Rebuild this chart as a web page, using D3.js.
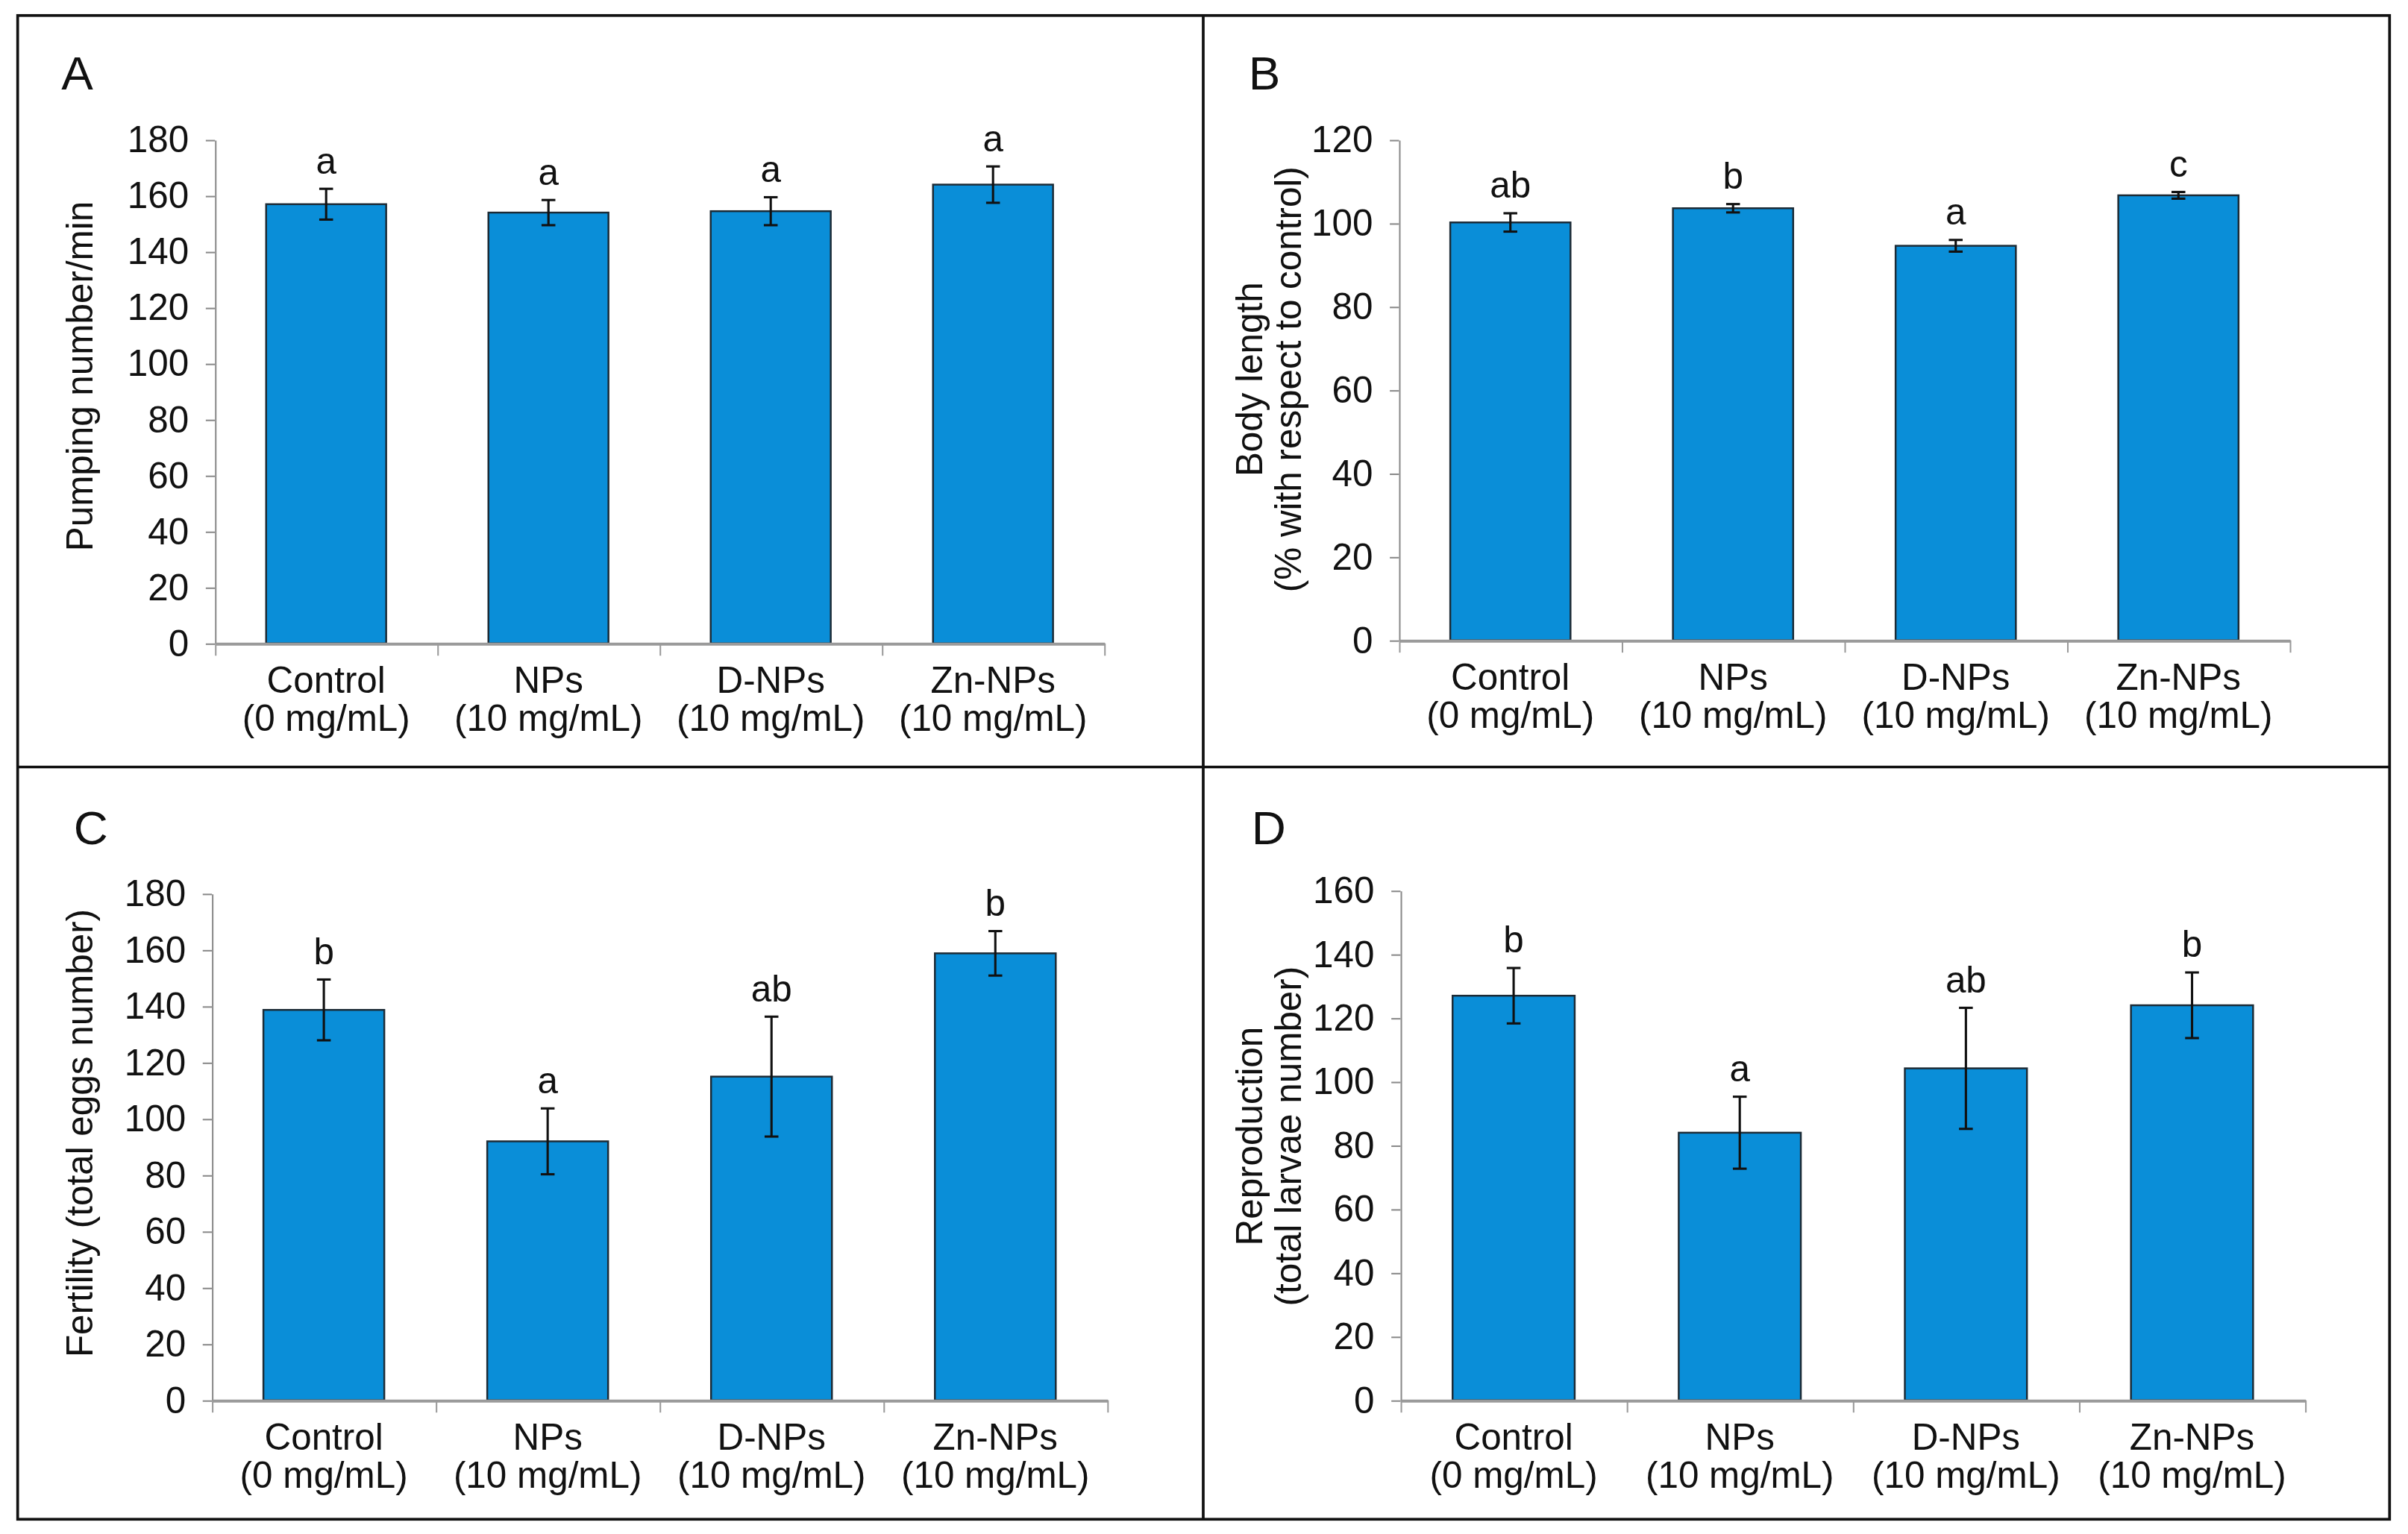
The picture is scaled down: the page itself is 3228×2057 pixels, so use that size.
<!DOCTYPE html>
<html>
<head>
<meta charset="utf-8">
<script src="https://cdn.jsdelivr.net/npm/d3@7"></script>
<style>
  html, body { margin: 0; padding: 0; background: #fff; }
  text { font-family: "Liberation Sans", Arial, sans-serif; fill: #111; }
</style>
</head>
<body>
<div class="canvas"></div>
<script>
const width = 3228, height = 2057

// data
const categories = ['Control', 'NPs', 'D-NPs', 'Zn-NPs']
const doses = ['(0 mg/mL)', '(10 mg/mL)', '(10 mg/mL)', '(10 mg/mL)']

const pumpingMean = [157, 154, 154.5, 164]
const pumpingErr = [5.5, 4.5, 5, 6.5]
const pumpingLetters = ['a', 'a', 'a', 'a']
const pumpingTicks = [0, 20, 40, 60, 80, 100, 120, 140, 160, 180]

const bodyMean = [100.2, 103.6, 94.6, 106.7]
const bodyErr = [2.2, 1, 1.4, 0.8]
const bodyLetters = ['ab', 'b', 'a', 'c']
const bodyTicks = [0, 20, 40, 60, 80, 100, 120]

const fertilityMean = [138.7, 92, 115, 158.8]
const fertilityErr = [10.8, 11.7, 21.3, 7.9]
const fertilityLetters = ['b', 'a', 'ab', 'b']
const fertilityTicks = [0, 20, 40, 60, 80, 100, 120, 140, 160, 180]

const reproMean = [127, 84, 104.2, 124]
const reproErr = [8.7, 11.3, 19, 10.3]
const reproLetters = ['b', 'a', 'ab', 'b']
const reproTicks = [0, 20, 40, 60, 80, 100, 120, 140, 160]

// layout is drawn in a 1568 x 999 space and scaled up
const svg = d3.select('.canvas').append('svg')
    .attr('width', width).attr('height', height)
    .attr('viewBox', '0 0 1568 999')

const panels = [
    { tag: 'A', tagX: 40, tagY: 58, x0: 140, x1: 719, yTop: 91, y0: 419,
      mean: pumpingMean, err: pumpingErr, letters: pumpingLetters, ticks: pumpingTicks,
      title: ['Pumping number/min'], titleX: [60], titleY: 245 },
    { tag: 'B', tagX: 813, tagY: 58, x0: 911, x1: 1491, yTop: 91, y0: 417,
      mean: bodyMean, err: bodyErr, letters: bodyLetters, ticks: bodyTicks,
      title: ['Body length', '(% with respect to control)'], titleX: [822, 847], titleY: 247 },
    { tag: 'C', tagX: 48, tagY: 550, x0: 138, x1: 721, yTop: 582, y0: 912,
      mean: fertilityMean, err: fertilityErr, letters: fertilityLetters, ticks: fertilityTicks,
      title: ['Fertility (total eggs number)'], titleX: [60], titleY: 738 },
    { tag: 'D', tagX: 815, tagY: 550, x0: 912, x1: 1501, yTop: 580, y0: 912,
      mean: reproMean, err: reproErr, letters: reproLetters, ticks: reproTicks,
      title: ['Reproduction', '(total larvae number)'], titleX: [822, 847], titleY: 740 }
]

panels.forEach(p => {
    const g = svg.append('g')
    const rows = categories.map((c, i) => ({ cat: c, dose: doses[i], v: p.mean[i], e: p.err[i], l: p.letters[i] }))

    const x = d3.scaleBand().domain(categories).range([p.x0, p.x1]).paddingInner(0.46).paddingOuter(0.23)
    const xEdge = d3.scaleLinear().domain([0, categories.length]).range([p.x0, p.x1])
    const y = d3.scaleLinear().domain([0, d3.max(p.ticks)]).range([p.y0, p.yTop])

    // y axis
    const yAxisG = g.append('g').attr('transform', `translate(${p.x0},0)`)
        .call(d3.axisLeft(y).tickValues(p.ticks).tickSize(6).tickPadding(11).tickSizeOuter(0))
    yAxisG.select('.domain').attr('stroke', '#8a8a8a').attr('stroke-width', 1)
    yAxisG.selectAll('.tick line').attr('stroke', '#8a8a8a')
    yAxisG.selectAll('text').style('font-size', '24px').attr('fill', '#111')
        .style('font-family', '"Liberation Sans", Arial, sans-serif')

    // bars
    g.selectAll('rect.bar').data(rows).enter().append('rect')
        .attr('class', 'bar')
        .attr('x', d => x(d.cat))
        .attr('y', d => y(d.v))
        .attr('width', x.bandwidth())
        .attr('height', d => p.y0 - y(d.v))
        .attr('fill', '#0A8ED8')
        .attr('stroke', '#1c2b36')
        .attr('stroke-width', 1.2)

    // x axis
    const xAxisG = g.append('g').attr('transform', `translate(0,${p.y0})`)
        .call(d3.axisBottom(xEdge).tickValues(d3.range(categories.length + 1)).tickSize(8).tickSizeOuter(0).tickFormat(''))
    xAxisG.select('.domain').attr('stroke', '#9a9a9a').attr('stroke-width', 2)
    xAxisG.selectAll('.tick line').attr('stroke', '#9a9a9a').attr('stroke-width', 1)

    // error bars
    const eb = g.selectAll('g.err').data(rows).enter().append('g').attr('class', 'err')
    const cx = d => x(d.cat) + x.bandwidth() / 2
    eb.append('line').attr('x1', cx).attr('x2', cx)
        .attr('y1', d => y(d.v + d.e)).attr('y2', d => y(d.v - d.e))
    eb.append('line').attr('x1', d => cx(d) - 4.5).attr('x2', d => cx(d) + 4.5)
        .attr('y1', d => y(d.v + d.e)).attr('y2', d => y(d.v + d.e))
    eb.append('line').attr('x1', d => cx(d) - 4.5).attr('x2', d => cx(d) + 4.5)
        .attr('y1', d => y(d.v - d.e)).attr('y2', d => y(d.v - d.e))
    eb.selectAll('line').attr('stroke', '#111').attr('stroke-width', 1.5)

    // significance letters
    g.selectAll('text.sig').data(rows).enter().append('text')
        .attr('class', 'sig')
        .attr('x', cx)
        .attr('y', d => y(d.v + d.e) - 10)
        .attr('text-anchor', 'middle')
        .style('font-size', '24px')
        .text(d => d.l)

    // category labels
    const lab = g.selectAll('text.cat').data(rows).enter().append('text')
        .attr('class', 'cat')
        .attr('text-anchor', 'middle')
        .style('font-size', '24px')
    lab.append('tspan').attr('x', cx).attr('y', p.y0 + 32).text(d => d.cat)
    lab.append('tspan').attr('x', cx).attr('y', p.y0 + 57).text(d => d.dose)

    // axis title
    p.title.forEach((t, i) => {
        g.append('text')
            .attr('transform', `translate(${p.titleX[i]},${p.titleY}) rotate(-90)`)
            .attr('text-anchor', 'middle')
            .style('font-size', '24px')
            .text(t)
    })

    // panel tag
    g.append('text').attr('x', p.tagX).attr('y', p.tagY)
        .style('font-size', '31px').text(p.tag)
})

// frame and dividers
const frame = svg.append('g').attr('fill', 'none').attr('stroke', '#111').attr('stroke-width', 1.8)
frame.append('rect').attr('x', 11.5).attr('y', 10).attr('width', 1544.5).attr('height', 979.5)
frame.append('line').attr('x1', 783.5).attr('x2', 783.5).attr('y1', 10).attr('y2', 989.5)
frame.append('line').attr('x1', 11.5).attr('x2', 1556).attr('y1', 499.5).attr('y2', 499.5)
</script>
</body>
</html>
